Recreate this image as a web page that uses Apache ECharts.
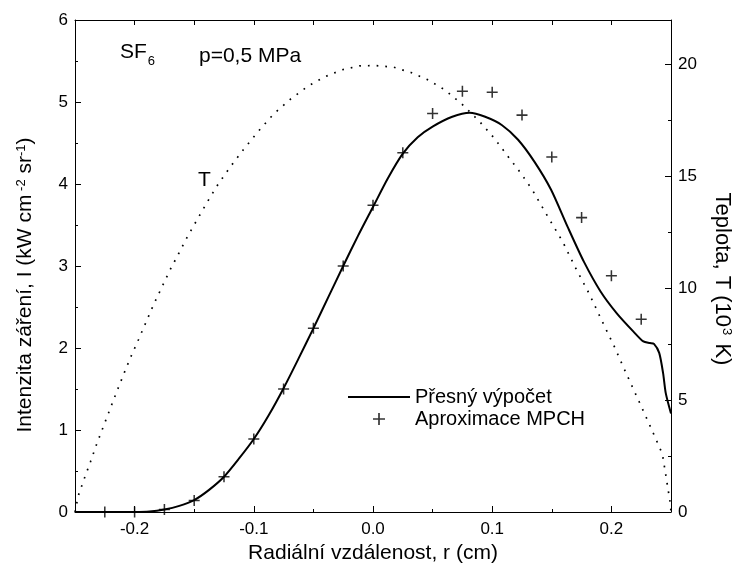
<!DOCTYPE html>
<html>
<head>
<meta charset="utf-8">
<script src="https://cdn.jsdelivr.net/npm/echarts@6/dist/echarts.min.js"></script>
<style>
  html, body { margin: 0; padding: 0; background: #fff; }
  #chart { width: 741px; height: 573px; }
</style>
</head>
<body>
<div id="chart"></div>
<script>
// přesný výpočet (solid line)
const rCurve = [-0.25, -0.225, -0.2, -0.1875, -0.175, -0.1625, -0.15, -0.1375, -0.125, -0.1125, -0.1, -0.0875,
  -0.075, -0.0625, -0.05, -0.0375, -0.025, -0.0125, 0, 0.0125, 0.025, 0.0375, 0.05, 0.0665, 0.0811, 0.0941,
  0.108, 0.1217, 0.1355, 0.1494, 0.1632, 0.177, 0.1909, 0.2047, 0.2185, 0.2268, 0.2323, 0.2357, 0.2401,
  0.2434, 0.2456, 0.25];
const iCurve = [0, 0, 0, 0.005, 0.03, 0.075, 0.146, 0.27, 0.43, 0.65, 0.89, 1.18,
  1.51, 1.87, 2.24, 2.62, 3.0, 3.37, 3.72, 4.07, 4.37, 4.57, 4.70, 4.82, 4.87, 4.82,
  4.72, 4.54, 4.27, 3.93, 3.48, 3.05, 2.69, 2.42, 2.2, 2.08, 2.06, 2.05, 1.94,
  1.69, 1.45, 1.2];

// aproximace MPCH (crosses)
const rApprox = [-0.225, -0.2, -0.175, -0.15, -0.125, -0.1, -0.075, -0.05, -0.025, 0, 0.025, 0.05, 0.075,
  0.1, 0.125, 0.15, 0.175, 0.2, 0.225];
const iApprox = [0, 0, 0.03, 0.14, 0.43, 0.89, 1.5, 2.24, 3.0, 3.74, 4.38, 4.86, 5.13,
  5.12, 4.84, 4.33, 3.59, 2.88, 2.35];

// teplota T (dotted line, right axis, 10^3 K)
const rTemp = [-0.25, -0.2473, -0.2423, -0.237, -0.2318, -0.2262, -0.2207, -0.2152, -0.2094, -0.2033,
  -0.1969, -0.1906, -0.1842, -0.1776, -0.1706, -0.1629, -0.1552, -0.1469, -0.1386, -0.1298, -0.1196,
  -0.1085, -0.0966, -0.0833, -0.069, -0.0543, -0.04, -0.0261, -0.0114, 0.0029, 0.0173, 0.0319, 0.0463,
  0.0604, 0.0748, 0.0894, 0.1018, 0.1134, 0.124, 0.1337, 0.1466, 0.1591, 0.1701, 0.1812, 0.1917, 0.2025,
  0.2124, 0.2226, 0.2328, 0.2428, 0.2494, 0.25];
const tempK = [0, 0.72, 1.48, 2.25, 3.04, 3.82, 4.59, 5.35, 6.13, 6.92,
  7.69, 8.47, 9.26, 10.0, 10.79, 11.57, 12.36, 13.13, 13.9, 14.67, 15.44,
  16.22, 17.0, 17.8, 18.47, 19.05, 19.47, 19.77, 19.95, 19.96, 19.89, 19.65, 19.32,
  18.87, 18.23, 17.46, 16.71, 15.89, 15.15, 14.4, 13.21, 12.09, 10.9, 9.78, 8.59, 7.39,
  6.2, 5.01, 3.81, 2.59, 0.39, 0];

// ticks
const xMajor = [-0.2, -0.1, 0, 0.1, 0.2];
const xMinor = [-0.15, -0.05, 0.05, 0.15];
const xTop = [-0.25, -0.2, -0.15, -0.1, -0.05, 0, 0.05, 0.1, 0.15, 0.2, 0.25];
const tMajor = [0, 5, 10, 15, 20];
const tMinor = [2.5, 7.5, 12.5, 17.5];

const font = "'Liberation Sans', Arial, sans-serif";
const ink = "#000";

const zip = (xs, ys) => xs.map((x, i) => [x, ys[i]]);

const chart = echarts.init(document.getElementById("chart"));

const plusPath = "path://M0,4.3H10V5.7H0Z M4.3,0H5.7V10H4.3Z";
const linePath = "path://M0,0H62V2H0Z";

const option = {
  animation: false,
  backgroundColor: "#fff",
  textStyle: { fontFamily: font, color: ink },
  grid: { left: 75, right: 63, top: 20, bottom: 61 },
  legend: {
    data: [
      { name: "Přesný výpočet", icon: linePath },
      { name: "Aproximace MPCH", icon: plusPath },
    ],
    orient: "vertical",
    left: 348,
    top: 387,
    padding: 0,
    itemGap: 2,
    itemWidth: 62,
    itemHeight: 12,
    textStyle: { fontFamily: font, fontSize: 20, color: ink },
  },
  xAxis: [
    {
      type: "value",
      position: "bottom",
      min: -0.25,
      max: 0.25,
      name: "Radiální vzdálenost, r (cm)",
      nameLocation: "middle",
      nameGap: 25,
      nameTextStyle: { fontFamily: font, fontSize: 21, color: ink },
      axisLine: { onZero: false, lineStyle: { color: ink, width: 1 } },
      axisTick: { inside: true, length: 6, customValues: xMajor, lineStyle: { color: ink } },
      axisLabel: {
        customValues: xMajor,
        margin: 9,
        fontSize: 17,
        color: ink,
        fontFamily: font,
        formatter: (v) => v.toFixed(1),
      },
      splitLine: { show: false },
    },
    {
      type: "value",
      position: "bottom",
      min: -0.25,
      max: 0.25,
      axisLine: { show: false, onZero: false },
      axisTick: { inside: true, length: 3, customValues: xMinor, lineStyle: { color: ink } },
      axisLabel: { show: false },
      splitLine: { show: false },
    },
    {
      type: "value",
      position: "top",
      min: -0.25,
      max: 0.25,
      axisLine: { onZero: false, lineStyle: { color: ink, width: 1 } },
      axisTick: { inside: true, length: 5, customValues: xTop, lineStyle: { color: ink } },
      axisLabel: { show: false },
      splitLine: { show: false },
    },
  ],
  yAxis: [
    {
      type: "value",
      position: "left",
      min: 0,
      max: 6,
      interval: 1,
      name: "Intenzita záření, I (kW cm{sup| -2} sr{sup|-1})",
      nameLocation: "middle",
      nameGap: 39,
      nameTextStyle: {
        fontFamily: font,
        fontSize: 21,
        color: ink,
        padding: [0, 38, 0, 0],
        rich: {
          sup: { fontFamily: font, fontSize: 13, color: ink, verticalAlign: "top", lineHeight: 12 },
        },
      },
      axisLine: { onZero: false, lineStyle: { color: ink, width: 1 } },
      axisTick: { inside: true, length: 6, lineStyle: { color: ink } },
      minorTick: { show: true, splitNumber: 2, length: 3, lineStyle: { color: ink } },
      axisLabel: { margin: 7, fontSize: 17, color: ink, fontFamily: font },
      splitLine: { show: false },
      minorSplitLine: { show: false },
    },
    {
      type: "value",
      position: "right",
      min: 0,
      max: 22,
      name: "Teplota, T (10{sup|3} K)",
      nameLocation: "middle",
      nameRotate: -90,
      nameGap: 40,
      nameTextStyle: {
        fontFamily: font,
        fontSize: 22,
        color: ink,
        padding: [0, 0, 0, 26],
        rich: {
          sup: { fontFamily: font, fontSize: 13, color: ink, verticalAlign: "top", lineHeight: 12, padding: [0, 2, 0, 1] },
        },
      },
      axisLine: { onZero: false, lineStyle: { color: ink, width: 1 } },
      axisTick: { inside: true, length: 6, customValues: tMajor, lineStyle: { color: ink } },
      axisLabel: { customValues: tMajor, margin: 7, fontSize: 17, color: ink, fontFamily: font },
      splitLine: { show: false },
    },
    {
      type: "value",
      position: "right",
      min: 0,
      max: 22,
      axisLine: { show: false, onZero: false },
      axisTick: { inside: true, length: 3, customValues: tMinor, lineStyle: { color: ink } },
      axisLabel: { show: false },
      splitLine: { show: false },
    },
  ],
  graphic: [
    {
      type: "text",
      left: 120,
      top: 42,
      style: {
        text: "{m|SF}{sub|6}",
        fill: ink,
        rich: {
          m: { fontFamily: font, fontSize: 21, fill: ink, lineHeight: 24 },
          sub: { fontFamily: font, fontSize: 13, fill: ink, lineHeight: 30, verticalAlign: "bottom", padding: [0, 0, 0, 1] },
        },
      },
    },
    {
      type: "text",
      left: 199,
      top: 46,
      style: { text: "p=0,5 MPa", font: "21px " + font, fill: ink },
    },
    {
      type: "text",
      left: 198,
      top: 170,
      style: { text: "T", font: "21px " + font, fill: ink },
    },
  ],
  series: [
    {
      name: "T",
      type: "line",
      yAxisIndex: 1,
      data: zip(rTemp, tempK),
      symbol: "none",
      smooth: false,
      lineStyle: { color: ink, width: 1.7, type: [1.7, 7] },
      silent: true,
    },
    {
      name: "Přesný výpočet",
      type: "line",
      data: zip(rCurve, iCurve),
      symbol: "none",
      smooth: 0.25,
      lineStyle: { color: ink, width: 2 },
      itemStyle: { color: ink },
    },
    {
      name: "Aproximace MPCH",
      type: "scatter",
      data: zip(rApprox, iApprox),
      symbol: plusPath,
      symbolSize: 11,
      itemStyle: { color: ink },
    },
  ],
};

chart.setOption(option);
</script>
</body>
</html>
